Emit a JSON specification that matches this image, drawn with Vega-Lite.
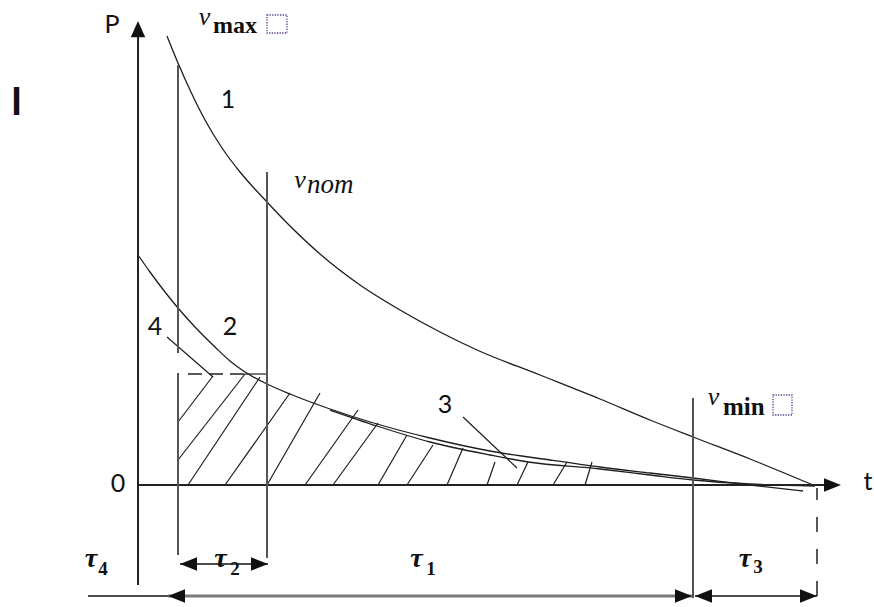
{
  "$schema": "https://vega.github.io/schema/vega-lite/v6.json",
  "width": 874,
  "height": 607,
  "autosize": "none",
  "padding": 0,
  "background": "white",
  "config": {"view": {"stroke": null}},
  "datasets": {
    "curves": [
      {"curve": "1", "t": 2.9, "P": 44.9}, {"curve": "1", "t": 4.0, "P": 42.2}, {"curve": "1", "t": 5.2, "P": 39.5},
      {"curve": "1", "t": 6.7, "P": 36.5}, {"curve": "1", "t": 8.4, "P": 33.7}, {"curve": "1", "t": 10.2, "P": 31.3},
      {"curve": "1", "t": 12.9, "P": 28.3}, {"curve": "1", "t": 15.2, "P": 25.9}, {"curve": "1", "t": 18.2, "P": 23.1},
      {"curve": "1", "t": 22.2, "P": 20.0}, {"curve": "1", "t": 26.2, "P": 17.5}, {"curve": "1", "t": 30.2, "P": 15.3},
      {"curve": "1", "t": 33.9, "P": 13.5}, {"curve": "1", "t": 40.2, "P": 11.0}, {"curve": "1", "t": 46.2, "P": 8.6},
      {"curve": "1", "t": 51.2, "P": 6.5}, {"curve": "1", "t": 55.5, "P": 4.8}, {"curve": "1", "t": 61.2, "P": 2.6},
      {"curve": "1", "t": 67.5, "P": 0.0},
      {"curve": "2", "t": 0.0, "P": 23.0}, {"curve": "2", "t": 1.2, "P": 21.3}, {"curve": "2", "t": 2.7, "P": 19.3},
      {"curve": "2", "t": 4.0, "P": 17.7}, {"curve": "2", "t": 5.7, "P": 15.8}, {"curve": "2", "t": 7.7, "P": 13.8},
      {"curve": "2", "t": 9.2, "P": 12.4}, {"curve": "2", "t": 10.7, "P": 11.3}, {"curve": "2", "t": 12.9, "P": 10.1},
      {"curve": "2", "t": 15.2, "P": 9.1}, {"curve": "2", "t": 19.2, "P": 7.6}, {"curve": "2", "t": 23.9, "P": 6.1},
      {"curve": "2", "t": 29.2, "P": 4.7}, {"curve": "2", "t": 35.2, "P": 3.4}, {"curve": "2", "t": 41.2, "P": 2.5},
      {"curve": "2", "t": 46.2, "P": 1.8}, {"curve": "2", "t": 51.2, "P": 1.2}, {"curve": "2", "t": 55.5, "P": 0.7},
      {"curve": "2", "t": 61.2, "P": 0.0}, {"curve": "2", "t": 66.5, "P": -0.6},
      {"curve": "3", "t": 19.2, "P": 7.5}, {"curve": "3", "t": 23.9, "P": 5.9}, {"curve": "3", "t": 29.2, "P": 4.3},
      {"curve": "3", "t": 35.2, "P": 3.0}, {"curve": "3", "t": 39.0, "P": 2.3}, {"curve": "3", "t": 46.2, "P": 1.6},
      {"curve": "3", "t": 51.2, "P": 1.0}, {"curve": "3", "t": 55.5, "P": 0.5}, {"curve": "3", "t": 61.2, "P": 0.1},
      {"curve": "3", "t": 67.7, "P": -0.1}
    ],
    "segments": [
      {"kind": "axis", "t": 0, "P": -10.0, "t2": 0, "P2": 44.8},
      {"kind": "axis", "t": 0, "P": 0, "t2": 68.7, "P2": 0},
      {"kind": "guide", "t": 4.0, "P": 42.0, "t2": 4.0, "P2": 13.2},
      {"kind": "guide", "t": 4.0, "P": 11.2, "t2": 4.0, "P2": -7.0},
      {"kind": "guide", "t": 12.9, "P": 31.3, "t2": 12.9, "P2": -7.3},
      {"kind": "guide", "t": 55.5, "P": 8.7, "t2": 55.5, "P2": -11.3},
      {"kind": "dashV", "t": 67.9, "P": -11.1, "t2": 67.9, "P2": -0.3},
      {"kind": "dashH", "t": 5.0, "P": 11.1, "t2": 10.7, "P2": 11.1},
      {"kind": "thin", "t": 10.7, "P": 11.1, "t2": 12.9, "P2": 11.1},
      {"kind": "thin", "t": 2.9, "P": 14.8, "t2": 7.5, "P2": 10.8},
      {"kind": "thin", "t": 32.5, "P": 6.8, "t2": 37.9, "P2": 1.7},
      {"kind": "thin", "t": 4.0, "P": 6.3, "t2": 7.5, "P2": 10.9},
      {"kind": "thin", "t": 4.0, "P": 2.5, "t2": 10.7, "P2": 11.1},
      {"kind": "thin", "t": 5.0, "P": 0, "t2": 12.2, "P2": 10.8},
      {"kind": "thin", "t": 8.7, "P": 0, "t2": 15.2, "P2": 9.2},
      {"kind": "thin", "t": 12.9, "P": 0, "t2": 18.2, "P2": 9.2},
      {"kind": "thin", "t": 16.7, "P": 0, "t2": 22.0, "P2": 7.5},
      {"kind": "thin", "t": 19.5, "P": 0, "t2": 24.0, "P2": 6.2},
      {"kind": "thin", "t": 24.0, "P": 0, "t2": 26.9, "P2": 5.0},
      {"kind": "thin", "t": 26.9, "P": 0, "t2": 29.5, "P2": 4.0},
      {"kind": "thin", "t": 30.9, "P": 0, "t2": 32.5, "P2": 3.7},
      {"kind": "thin", "t": 34.9, "P": 0, "t2": 35.7, "P2": 2.3},
      {"kind": "thin", "t": 37.9, "P": 0, "t2": 39.0, "P2": 2.3},
      {"kind": "thin", "t": 41.5, "P": 0, "t2": 42.9, "P2": 2.3},
      {"kind": "thin", "t": 44.7, "P": 0, "t2": 45.4, "P2": 2.3},
      {"kind": "dim", "t": -5.0, "P": -11.1, "t2": 3.0, "P2": -11.1},
      {"kind": "dim", "t": 4.2, "P": -7.9, "t2": 13.0, "P2": -7.9},
      {"kind": "dim", "t": 55.7, "P": -11.1, "t2": 67.9, "P2": -11.1},
      {"kind": "span", "t": 3.0, "P": -11.1, "t2": 55.4, "P2": -11.1}
    ],
    "arrowheads": [
      {"dir": "up", "t": 0, "P": 46.4},
      {"dir": "right", "t": 70.3, "P": 0},
      {"dir": "left", "t": 4.2, "P": -7.9},
      {"dir": "right", "t": 13.0, "P": -7.9},
      {"dir": "left", "t": 3.0, "P": -11.1},
      {"dir": "right", "t": 55.4, "P": -11.1},
      {"dir": "left", "t": 55.7, "P": -11.1},
      {"dir": "right", "t": 67.9, "P": -11.1}
    ],
    "boxes": [
      {"t": 12.9, "P": 45.2, "t2": 14.9, "P2": 47.0},
      {"t": 63.5, "P": 7.0, "t2": 65.4, "P2": 9.0}
    ],
    "labels": [
      {"text": "P", "t": -2.6, "P": 45.2},
      {"text": "t", "t": 73.0, "P": -0.5},
      {"text": "0", "t": -2.0, "P": -0.7},
      {"text": "1", "t": 9.0, "P": 37.7},
      {"text": "2", "t": 9.2, "P": 15.0},
      {"text": "3", "t": 30.7, "P": 7.2},
      {"text": "4", "t": 1.7, "P": 15.0}
    ],
    "mark": [{"text": "I", "t": -12.15, "P": 37.0}],
    "speeds": [
      {"text": "v", "t": 6.65, "P": 46.0},
      {"text": "v", "t": 16.2, "P": 29.7},
      {"text": "v", "t": 57.55, "P": 8.0}
    ],
    "speedSubs": [
      {"text": "max", "t": 7.5, "P": 45.2},
      {"text": "nom", "t": 16.9, "P": 29.2},
      {"text": "min", "t": 58.5, "P": 7.0}
    ],
    "intervals": [
      {"text": "τ", "t": 27.85, "P": -8.2},
      {"text": "τ", "t": 8.25, "P": -8.2},
      {"text": "τ", "t": 60.7, "P": -8.2},
      {"text": "τ", "t": -4.7, "P": -8.2}
    ],
    "intervalSubs": [
      {"text": "1", "t": 29.3, "P": -9.0},
      {"text": "2", "t": 9.7, "P": -9.0},
      {"text": "3", "t": 62.0, "P": -8.8},
      {"text": "4", "t": -3.5, "P": -9.0}
    ]
  },
  "encoding": {
    "x": {"field": "t", "type": "quantitative", "scale": {"domain": [-13.8, 73.6], "nice": false, "zero": false}, "axis": null},
    "y": {"field": "P", "type": "quantitative", "scale": {"domain": [-12.2, 48.5], "nice": false, "zero": false}, "axis": null}
  },
  "layer": [
    {
      "data": {"name": "segments"},
      "transform": [{"filter": "datum.kind === 'thin'"}],
      "mark": {"type": "rule", "stroke": "#1e1e1e", "strokeWidth": 1.2},
      "encoding": {"x2": {"field": "t2"}, "y2": {"field": "P2"}}
    },
    {
      "data": {"name": "curves"},
      "mark": {"type": "line", "interpolate": "monotone", "stroke": "#1e1e1e", "strokeWidth": 1.3},
      "encoding": {"detail": {"field": "curve"}}
    },
    {
      "data": {"name": "segments"},
      "transform": [{"filter": "datum.kind === 'axis'"}],
      "mark": {"type": "rule", "stroke": "#222222", "strokeWidth": 2},
      "encoding": {"x2": {"field": "t2"}, "y2": {"field": "P2"}}
    },
    {
      "data": {"name": "segments"},
      "transform": [{"filter": "datum.kind === 'guide'"}],
      "mark": {"type": "rule", "stroke": "#555555", "strokeWidth": 2},
      "encoding": {"x2": {"field": "t2"}, "y2": {"field": "P2"}}
    },
    {
      "data": {"name": "segments"},
      "transform": [{"filter": "datum.kind === 'dashV'"}],
      "mark": {"type": "rule", "stroke": "#222222", "strokeWidth": 1.5, "strokeDash": [15, 17]},
      "encoding": {"x2": {"field": "t2"}, "y2": {"field": "P2"}}
    },
    {
      "data": {"name": "segments"},
      "transform": [{"filter": "datum.kind === 'dashH'"}],
      "mark": {"type": "rule", "stroke": "#222222", "strokeWidth": 1.3, "strokeDash": [14, 7]},
      "encoding": {"x2": {"field": "t2"}, "y2": {"field": "P2"}}
    },
    {
      "data": {"name": "segments"},
      "transform": [{"filter": "datum.kind === 'span'"}],
      "mark": {"type": "rule", "stroke": "#7a7a7a", "strokeWidth": 3},
      "encoding": {"x2": {"field": "t2"}, "y2": {"field": "P2"}}
    },
    {
      "data": {"name": "segments"},
      "transform": [{"filter": "datum.kind === 'dim'"}],
      "mark": {"type": "rule", "stroke": "#111111", "strokeWidth": 1.4},
      "encoding": {"x2": {"field": "t2"}, "y2": {"field": "P2"}}
    },
    {
      "data": {"name": "arrowheads"},
      "mark": {"type": "point", "filled": true, "fill": "#111111", "strokeWidth": 0, "opacity": 1, "size": 289},
      "encoding": {
        "shape": {
          "field": "dir",
          "scale": {"domain": ["right", "left", "up"], "range": ["M0,0L-2,-0.8L-2,0.8Z", "M0,0L2,-0.8L2,0.8Z", "M0,0L-0.85,1.9L0.85,1.9Z"]},
          "legend": null
        }
      }
    },
    {
      "data": {"name": "boxes"},
      "mark": {"type": "rect", "fill": null, "fillOpacity": 0, "stroke": "#5a3d8c", "strokeWidth": 1.3, "strokeDash": [1.3, 1.3]},
      "encoding": {"x2": {"field": "t2"}, "y2": {"field": "P2"}}
    },
    {
      "data": {"name": "labels"},
      "mark": {"type": "text", "font": "Lato", "fontSize": 25, "align": "center", "baseline": "alphabetic", "fill": "#111111"},
      "encoding": {"text": {"field": "text"}}
    },
    {
      "data": {"name": "mark"},
      "mark": {"type": "text", "font": "Lato", "fontWeight": "bold", "fontSize": 39, "align": "center", "baseline": "alphabetic", "fill": "#111111"},
      "encoding": {"text": {"field": "text"}}
    },
    {
      "data": {"name": "speeds"},
      "mark": {"type": "text", "font": "Liberation Serif", "fontStyle": "italic", "fontSize": 26, "align": "center", "baseline": "alphabetic", "fill": "#111111"},
      "encoding": {"text": {"field": "text"}}
    },
    {
      "data": {"name": "speedSubs"},
      "transform": [{"filter": "datum.text === 'max'"}],
      "mark": {"type": "text", "font": "Liberation Serif", "fontWeight": "bold", "fontSize": 24, "align": "left", "baseline": "alphabetic", "fill": "#111111"},
      "encoding": {"text": {"field": "text"}}
    },
    {
      "data": {"name": "speedSubs"},
      "transform": [{"filter": "datum.text === 'nom'"}],
      "mark": {"type": "text", "font": "Liberation Serif", "fontStyle": "italic", "fontSize": 27, "align": "left", "baseline": "alphabetic", "fill": "#111111"},
      "encoding": {"text": {"field": "text"}}
    },
    {
      "data": {"name": "speedSubs"},
      "transform": [{"filter": "datum.text === 'min'"}],
      "mark": {"type": "text", "font": "Liberation Serif", "fontWeight": "bold", "fontSize": 25, "align": "left", "baseline": "alphabetic", "fill": "#111111"},
      "encoding": {"text": {"field": "text"}}
    },
    {
      "data": {"name": "intervals"},
      "mark": {"type": "text", "font": "Liberation Serif", "fontStyle": "italic", "fontWeight": "bold", "fontSize": 28, "align": "center", "baseline": "alphabetic", "fill": "#111111"},
      "encoding": {"text": {"field": "text"}}
    },
    {
      "data": {"name": "intervalSubs"},
      "mark": {"type": "text", "font": "Liberation Serif", "fontWeight": "bold", "fontSize": 19, "align": "center", "baseline": "alphabetic", "fill": "#111111"},
      "encoding": {"text": {"field": "text"}}
    }
  ]
}
